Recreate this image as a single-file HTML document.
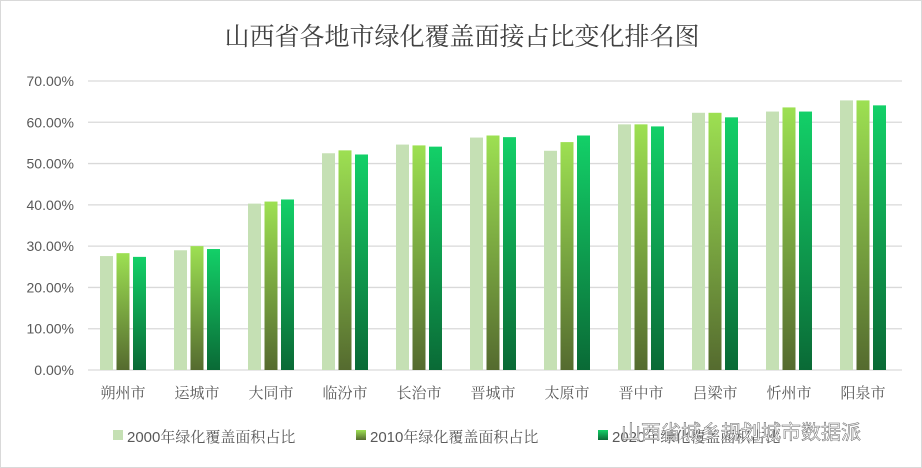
<!DOCTYPE html>
<html><head><meta charset="utf-8"><style>
body{margin:0;background:#fff;}
#wrap{position:relative;width:922px;height:468px;border:1px solid #d9d9d9;box-sizing:border-box;overflow:hidden;font-family:"Liberation Sans","Noto Serif CJK SC",serif;}
</style></head><body>
<div id="wrap">
<svg id="chart" width="922" height="468">
<defs>
<linearGradient id="g2010" x1="0" y1="0" x2="0" y2="1"><stop offset="0" stop-color="#9de052"/><stop offset="1" stop-color="#556b2f"/></linearGradient>
<linearGradient id="g2020" x1="0" y1="0" x2="0" y2="1"><stop offset="0" stop-color="#13d068"/><stop offset="1" stop-color="#0a6a36"/></linearGradient>
</defs>
<text x="461" y="44" text-anchor="middle" font-size="25" fill="#404040" font-family="Liberation Serif,Noto Serif CJK SC,serif">山西省各地市绿化覆盖面接占比变化排名图</text>
<g id="grid"></g><g id="bars"></g><g id="xlabels"></g>
<g font-size="15" fill="#595959" font-family="Liberation Sans,Noto Serif CJK SC,serif">
<rect x="112" y="429" width="10" height="10" fill="#c5e0b4"/>
<text x="126" y="441">2000年绿化覆盖面积占比</text>
<rect x="355" y="429" width="10" height="10" fill="url(#g2010)"/>
<text x="369" y="441">2010年绿化覆盖面积占比</text>
<rect x="597" y="429" width="10" height="10" fill="url(#g2020)"/>
<text x="611" y="441">2020年绿化覆盖面积占比</text>
</g>
<text x="620" y="438" font-size="20" fill="#ffffff" stroke="#666" stroke-width="0.5" font-family="Liberation Sans,Noto Sans CJK SC,sans-serif">山西省城乡规划城市数据派</text>
</svg>
</div>
<script>
const categories=["朔州市","运城市","大同市","临汾市","长治市","晋城市","太原市","晋中市","吕梁市","忻州市","阳泉市"];
const s2000=[27.6,29.0,40.3,52.5,54.6,56.3,53.1,59.5,62.3,62.6,65.3];
const s2010=[28.3,30.0,40.8,53.2,54.4,56.8,55.2,59.5,62.3,63.6,65.3];
const s2020=[27.4,29.3,41.3,52.2,54.1,56.4,56.8,59.0,61.2,62.6,64.1];
const ticks=[0,10,20,30,40,50,60,70];
const tickLabels=["0.00%","10.00%","20.00%","30.00%","40.00%","50.00%","60.00%","70.00%"];
const NS="http://www.w3.org/2000/svg";
const x0=87,x1=901,yB=369,yT=80,vmax=70;
const y=v=>yB-(v/vmax)*(yB-yT);
const band=(x1-x0)/categories.length;
const cx=i=>x0+band*(i+0.5);
function mk(tag,attrs,parent){const e=document.createElementNS(NS,tag);for(const k in attrs)e.setAttribute(k,attrs[k]);parent.appendChild(e);return e;}
const grid=document.getElementById('grid');
ticks.forEach((t,i)=>{
  const l=mk('line',{x1:x0,x2:x1,y1:y(t),y2:y(t),stroke:'#d9d9d9','stroke-width':1.3},grid);
  
  
  const tx=mk('text',{x:73,y:y(t)+5,'text-anchor':'end','font-size':14,fill:'#595959'},grid);
  tx.textContent=tickLabels[i];
  
  
});
const bars=document.getElementById('bars');const xl=document.getElementById('xlabels');
const bw=13,gap=3.5;
const series=[[s2000,'#c5e0b4','2000'],[s2010,'url(#g2010)','2010'],[s2020,'url(#g2020)','2020']];
categories.forEach((c,i)=>{
  series.forEach((s,j)=>{
    const v=s[0][i];const bx=cx(i)+(j-1)*(bw+gap)-bw/2-2;
    const r=mk('rect',{x:bx,y:y(v),width:bw,height:yB-y(v),fill:s[1]},bars);
    
    
  });
  const t=mk('text',{x:cx(i)-2,y:397,'text-anchor':'middle','font-size':15,fill:'#595959','font-family':'Liberation Serif,Noto Serif CJK SC,serif'},xl);
  t.textContent=c;
  
  
});
</script>
</body></html>
